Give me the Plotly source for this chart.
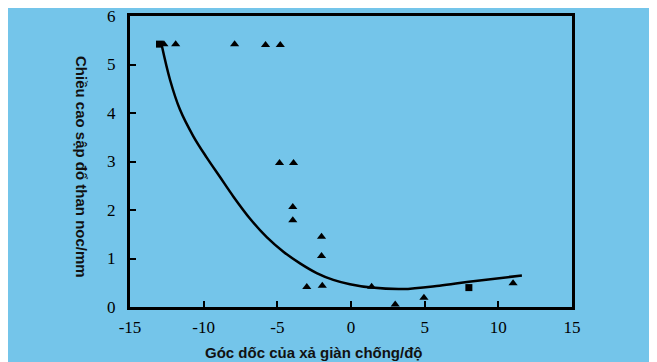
import plotly.graph_objects as go

# Data
tri_x = [-12.7, -11.9, -7.9, -5.8, -4.8, -4.85, -3.9, -3.95, -3.95, -2.0, -2.0, -3.0, -1.95, 1.4, 3.0, 4.95, 11.0]
tri_y = [5.42, 5.42, 5.42, 5.40, 5.40, 2.97, 2.97, 2.06, 1.79, 1.45, 1.05, 0.41, 0.44, 0.42, 0.05, 0.19, 0.49]
sq_x = [-13.0, 8.0]
sq_y = [5.42, 0.40]

fit_x = [-12.85, -12.28, -11.61, -10.70, -9.79, -8.89, -7.99, -6.85, -5.72, -4.59, -3.46, -2.33, -1.20, -0.07, 1.4, 3.5, 6.0, 8.0, 11.6]
fit_y = [5.40, 4.68, 4.07, 3.52, 3.08, 2.68, 2.28, 1.82, 1.44, 1.14, 0.90, 0.70, 0.56, 0.47, 0.40, 0.37, 0.44, 0.52, 0.65]

x_ticks = [-15, -10, -5, 0, 5, 10, 15]
y_ticks = [0, 1, 2, 3, 4, 5, 6]

x_title = "Góc dốc của xả giàn chống/độ"
y_title = "Chiều cao sập đổ than noc/mm"

fig = go.Figure()
fig.add_trace(go.Scatter(x=fit_x, y=fit_y, mode="lines",
                         line=dict(color="black", width=2.5, shape="spline", smoothing=1.0),
                         showlegend=False, hoverinfo="skip"))
fig.add_trace(go.Scatter(x=tri_x, y=tri_y, mode="markers",
                         marker=dict(symbol="triangle-up", size=8, color="black"),
                         showlegend=False))
fig.add_trace(go.Scatter(x=sq_x, y=sq_y, mode="markers",
                         marker=dict(symbol="square", size=7, color="black"),
                         showlegend=False))

blue = "#74C5EA"
W, H = 649, 354
L, T, R, B = 122, 8, 85, 55
PW, PH = W - L - R, H - T - B

fig.update_layout(
    width=W, height=H,
    margin=dict(l=L, r=R, t=T, b=B, autoexpand=False),
    paper_bgcolor=blue,
    plot_bgcolor="rgba(0,0,0,0)",
    shapes=[dict(type="rect", xref="paper", yref="paper",
                 x0=(641 - L) / PW, x1=(W + 20 - L) / PW, y0=-1, y1=2,
                 fillcolor="white", line=dict(width=0), layer="below")],
    xaxis=dict(range=[-15, 15], tickvals=x_ticks, ticktext=[str(v) for v in x_ticks],
               ticks="inside", ticklen=6, tickwidth=2, tickcolor="black",
               showline=True, linewidth=3, linecolor="black", mirror=True,
               showgrid=False, zeroline=False, ticklabelstandoff=3, automargin=False,
               ticklabeloverflow="allow",
               tickfont=dict(family="Liberation Serif", size=17, color="black")),
    yaxis=dict(range=[0, 6], tickvals=y_ticks, ticktext=[str(v) for v in y_ticks],
               ticks="inside", ticklen=6, tickwidth=2, tickcolor="black",
               showline=True, linewidth=3, linecolor="black", mirror=True,
               showgrid=False, zeroline=False, ticklabelstandoff=8, automargin=False,
               ticklabeloverflow="allow",
               tickfont=dict(family="Liberation Serif", size=17, color="black")),
    annotations=[
        dict(text=x_title, xref="paper", yref="paper", x=(314 - 130) / 442, y=-(353 - 307) / 291,
             showarrow=False, xanchor="center", yanchor="middle",
             font=dict(family="Liberation Sans", size=15, color="#111111", weight="bold")),
        dict(text=y_title, xref="paper", yref="paper", x=(81 - 130) / 442, y=(307 - 167) / 291,
             showarrow=False, xanchor="center", yanchor="middle", textangle=90,
             font=dict(family="Liberation Sans", size=15, color="#111111", weight="bold")),
    ],
)

fig.write_html("out.html")
